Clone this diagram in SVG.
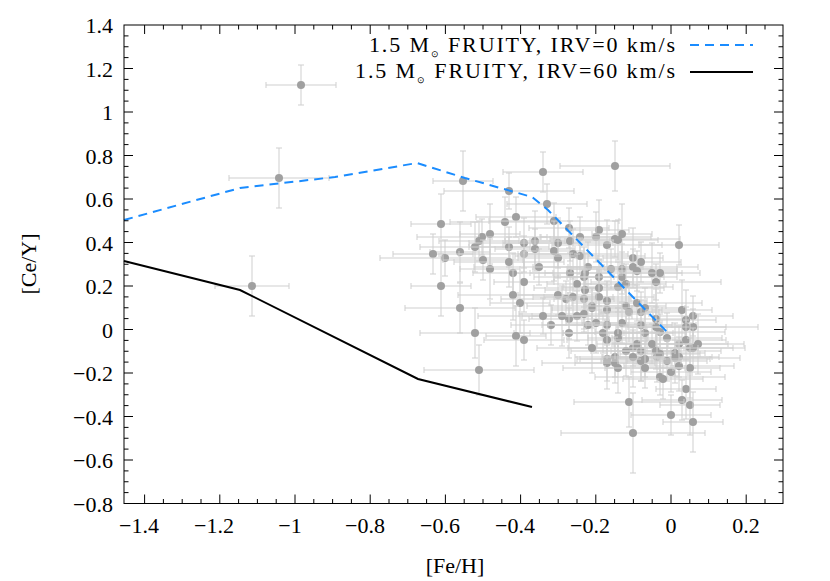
<svg xmlns="http://www.w3.org/2000/svg" xmlns:xlink="http://www.w3.org/1999/xlink" width="830" height="581" viewBox="0 0 830 581">
<style>
text{font-family:"Liberation Serif","Times New Roman",serif;font-size:22px;fill:#000}
.tk{stroke:#000;stroke-width:1;fill:none}
.eb{stroke:#cfcfcf;stroke-width:1;fill:none}
.pt{fill:#a0a0a0}
</style>
<defs>
<g id="a"><path class="eb" d="M-40 0H40M-40 -3V3M40 -3V3M0 -20V20M-3 -20H3M-3 20H3"/><circle class="pt" r="4"/></g>
<g id="b"><path class="eb" d="M-55 0H55M-55 -3V3M55 -3V3M0 -25V25M-3 -25H3M-3 25H3"/><circle class="pt" r="4"/></g>
<g id="c"><path class="eb" d="M-30 0H30M-30 -3V3M30 -3V3M0 -30V30M-3 -30H3M-3 30H3"/><circle class="pt" r="4"/></g>
<g id="d"><path class="eb" d="M-65 0H65M-65 -3V3M65 -3V3M0 -18V18M-3 -18H3M-3 18H3"/><circle class="pt" r="4"/></g>
</defs>
<rect width="830" height="581" fill="#fff"/>
<g id="data">
<g transform="translate(301,85)"><path class="eb" d="M-35 0H35M-35 -3V3M35 -3V3M0 -20V20M-3 -20H3M-3 20H3"/><circle class="pt" r="4"/></g>
<g transform="translate(279,178)"><path class="eb" d="M-50 0H50M-50 -3V3M50 -3V3M0 -30V30M-3 -30H3M-3 30H3"/><circle class="pt" r="4"/></g>
<g transform="translate(252,286)"><path class="eb" d="M-37 0H37M-37 -3V3M37 -3V3M0 -30V30M-3 -30H3M-3 30H3"/><circle class="pt" r="4"/></g>
<use href="#a" x="543" y="172"/><use href="#b" x="615" y="166"/><use href="#c" x="463" y="181"/><use href="#d" x="509" y="191"/>
<use href="#a" x="547" y="204"/><use href="#c" x="441" y="224"/><use href="#b" x="505" y="222"/><use href="#a" x="516" y="217"/>
<use href="#d" x="554" y="221"/><use href="#a" x="569" y="228"/><use href="#c" x="599" y="230"/><use href="#b" x="596" y="237"/>
<use href="#a" x="580" y="237"/><use href="#d" x="615" y="239"/><use href="#c" x="622" y="234"/><use href="#a" x="618" y="240"/>
<use href="#b" x="607" y="245"/><use href="#a" x="679" y="245"/><use href="#c" x="490" y="234"/><use href="#d" x="482" y="237"/>
<use href="#a" x="479" y="241"/><use href="#b" x="475" y="247"/><use href="#c" x="460" y="252"/><use href="#a" x="433" y="254"/>
<use href="#d" x="445" y="258"/><use href="#a" x="509" y="247"/><use href="#b" x="524" y="243"/><use href="#c" x="535" y="241"/>
<use href="#a" x="535" y="249"/><use href="#d" x="524" y="254"/><use href="#b" x="558" y="243"/><use href="#a" x="570" y="241"/>
<use href="#c" x="554" y="251"/><use href="#a" x="558" y="258"/><use href="#b" x="573" y="254"/><use href="#d" x="580" y="256"/>
<use href="#a" x="483" y="260"/><use href="#c" x="490" y="269"/><use href="#b" x="509" y="262"/><use href="#a" x="513" y="273"/>
<use href="#d" x="539" y="267"/><use href="#c" x="524" y="282"/><use href="#a" x="570" y="273"/><use href="#b" x="588" y="267"/>
<use href="#a" x="585" y="273"/><use href="#c" x="584" y="277"/><use href="#d" x="599" y="277"/><use href="#a" x="611" y="269"/>
<use href="#b" x="622" y="269"/><use href="#c" x="633" y="258"/><use href="#a" x="641" y="262"/><use href="#d" x="633" y="267"/>
<use href="#a" x="637" y="271"/><use href="#b" x="622" y="277"/><use href="#c" x="652" y="273"/><use href="#a" x="660" y="273"/>
<use href="#d" x="656" y="282"/><use href="#a" x="626" y="284"/><use href="#b" x="618" y="287"/><use href="#c" x="577" y="284"/>
<use href="#a" x="585" y="290"/><use href="#d" x="599" y="288"/><use href="#c" x="441" y="286"/><use href="#b" x="513" y="295"/>
<use href="#a" x="558" y="295"/><use href="#d" x="566" y="299"/><use href="#a" x="573" y="297"/><use href="#c" x="584" y="299"/>
<use href="#b" x="599" y="297"/><use href="#a" x="607" y="301"/><use href="#d" x="592" y="306"/><use href="#a" x="592" y="308"/>
<use href="#c" x="520" y="303"/><use href="#b" x="460" y="308"/><use href="#a" x="626" y="306"/><use href="#d" x="637" y="303"/>
<use href="#a" x="645" y="308"/><use href="#c" x="629" y="312"/><use href="#b" x="607" y="310"/><use href="#a" x="641" y="312"/>
<use href="#c" x="682" y="310"/><use href="#a" x="693" y="316"/><use href="#d" x="584" y="314"/><use href="#b" x="577" y="316"/>
<use href="#a" x="569" y="319"/><use href="#c" x="562" y="316"/><use href="#d" x="543" y="316"/><use href="#a" x="551" y="325"/>
<use href="#b" x="569" y="333"/><use href="#a" x="588" y="325"/><use href="#c" x="596" y="323"/><use href="#d" x="607" y="325"/>
<use href="#a" x="622" y="323"/><use href="#b" x="641" y="325"/><use href="#c" x="656" y="319"/><use href="#a" x="656" y="327"/>
<use href="#d" x="660" y="332"/><use href="#a" x="645" y="333"/><use href="#b" x="667" y="338"/><use href="#c" x="686" y="320"/>
<use href="#a" x="686" y="327"/><use href="#d" x="693" y="327"/><use href="#a" x="603" y="333"/><use href="#b" x="618" y="333"/>
<use href="#c" x="618" y="338"/><use href="#a" x="607" y="340"/><use href="#b" x="475" y="333"/><use href="#c" x="516" y="336"/>
<use href="#a" x="524" y="340"/><use href="#d" x="679" y="344"/><use href="#a" x="686" y="340"/><use href="#b" x="690" y="348"/>
<use href="#c" x="698" y="344"/><use href="#a" x="693" y="348"/><use href="#d" x="633" y="348"/><use href="#a" x="637" y="344"/>
<use href="#b" x="626" y="351"/><use href="#c" x="641" y="351"/><use href="#a" x="652" y="344"/><use href="#d" x="656" y="351"/>
<use href="#a" x="660" y="354"/><use href="#b" x="657" y="357"/><use href="#c" x="675" y="353"/><use href="#a" x="679" y="357"/>
<use href="#d" x="675" y="358"/><use href="#a" x="667" y="361"/><use href="#b" x="679" y="366"/><use href="#c" x="690" y="368"/>
<use href="#a" x="671" y="372"/><use href="#d" x="660" y="377"/><use href="#a" x="663" y="379"/><use href="#b" x="592" y="348"/>
<use href="#c" x="607" y="359"/><use href="#a" x="615" y="357"/><use href="#d" x="607" y="363"/><use href="#a" x="615" y="363"/>
<use href="#b" x="618" y="368"/><use href="#c" x="633" y="357"/><use href="#a" x="641" y="361"/><use href="#d" x="645" y="359"/>
<use href="#a" x="645" y="368"/><use href="#b" x="479" y="370"/><use href="#c" x="686" y="389"/><use href="#a" x="682" y="400"/>
<use href="#c" x="690" y="405"/><use href="#b" x="629" y="402"/><use href="#a" x="671" y="415"/><use href="#c" x="693" y="422"/>
<g transform="translate(633,433)"><path class="eb" d="M-72 0H72M-72 -3V3M72 -3V3M0 -40V40M-3 -40H3M-3 40H3"/><circle class="pt" r="4"/></g>
</g>
<g id="connectors" fill="none" stroke-width="2">
<polyline stroke="#1a8cff" stroke-dasharray="9,6" points="124,220 240,188 335,177 417,163 465,178 532,197 548,210 670,335"/>
<polyline stroke="#000" points="124,261 240,290 418,379 532,407"/>
<line stroke="#1a8cff" stroke-dasharray="9,6" x1="690" y1="45" x2="753" y2="45"/>
<line stroke="#000" x1="690" y1="72" x2="753" y2="72"/>
</g>
<g id="frame">
<rect class="tk" x="124" y="25" width="659" height="478.5"/>
<path class="tk" d="M144.6 503.5v-9M219.8 503.5v-9M295 503.5v-9M370.2 503.5v-9M445.4 503.5v-9M520.6 503.5v-9M595.8 503.5v-9M671 503.5v-9M746.2 503.5v-9M144.6 25v9M219.8 25v9M295 25v9M370.2 25v9M445.4 25v9M520.6 25v9M595.8 25v9M671 25v9M746.2 25v9"/>
<path class="tk" d="M163.4 503.5v-4.5M182.2 503.5v-4.5M201 503.5v-4.5M238.6 503.5v-4.5M257.4 503.5v-4.5M276.2 503.5v-4.5M313.8 503.5v-4.5M332.6 503.5v-4.5M351.4 503.5v-4.5M389 503.5v-4.5M407.8 503.5v-4.5M426.6 503.5v-4.5M464.2 503.5v-4.5M483 503.5v-4.5M501.8 503.5v-4.5M539.4 503.5v-4.5M558.2 503.5v-4.5M577 503.5v-4.5M614.6 503.5v-4.5M633.4 503.5v-4.5M652.2 503.5v-4.5M689.8 503.5v-4.5M708.6 503.5v-4.5M727.4 503.5v-4.5M765 503.5v-4.5M163.4 25v4.5M182.2 25v4.5M201 25v4.5M238.6 25v4.5M257.4 25v4.5M276.2 25v4.5M313.8 25v4.5M332.6 25v4.5M351.4 25v4.5M389 25v4.5M407.8 25v4.5M426.6 25v4.5M464.2 25v4.5M483 25v4.5M501.8 25v4.5M539.4 25v4.5M558.2 25v4.5M577 25v4.5M614.6 25v4.5M633.4 25v4.5M652.2 25v4.5M689.8 25v4.5M708.6 25v4.5M727.4 25v4.5M765 25v4.5"/>
<path class="tk" d="M124 68.5h9M124 112h9M124 155.5h9M124 199h9M124 242.5h9M124 286h9M124 329.5h9M124 373h9M124 416.5h9M124 460h9M783 68.5h-9M783 112h-9M783 155.5h-9M783 199h-9M783 242.5h-9M783 286h-9M783 329.5h-9M783 373h-9M783 416.5h-9M783 460h-9"/>
<path class="tk" d="M124 35.9h4.5M124 46.75h4.5M124 57.6h4.5M124 79.4h4.5M124 90.25h4.5M124 101.1h4.5M124 122.9h4.5M124 133.75h4.5M124 144.6h4.5M124 166.4h4.5M124 177.25h4.5M124 188.1h4.5M124 209.9h4.5M124 220.75h4.5M124 231.6h4.5M124 253.4h4.5M124 264.25h4.5M124 275.1h4.5M124 296.9h4.5M124 307.75h4.5M124 318.6h4.5M124 340.4h4.5M124 351.25h4.5M124 362.1h4.5M124 383.9h4.5M124 394.75h4.5M124 405.6h4.5M124 427.4h4.5M124 438.25h4.5M124 449.1h4.5M124 470.9h4.5M124 481.75h4.5M124 492.6h4.5"/>
<path class="tk" d="M783 35.9h-4.5M783 46.75h-4.5M783 57.6h-4.5M783 79.4h-4.5M783 90.25h-4.5M783 101.1h-4.5M783 122.9h-4.5M783 133.75h-4.5M783 144.6h-4.5M783 166.4h-4.5M783 177.25h-4.5M783 188.1h-4.5M783 209.9h-4.5M783 220.75h-4.5M783 231.6h-4.5M783 253.4h-4.5M783 264.25h-4.5M783 275.1h-4.5M783 296.9h-4.5M783 307.75h-4.5M783 318.6h-4.5M783 340.4h-4.5M783 351.25h-4.5M783 362.1h-4.5M783 383.9h-4.5M783 394.75h-4.5M783 405.6h-4.5M783 427.4h-4.5M783 438.25h-4.5M783 449.1h-4.5M783 470.9h-4.5M783 481.75h-4.5M783 492.6h-4.5"/>
</g>
<g id="ylabels" text-anchor="end">
<text x="113" y="33">1.4</text><text x="113" y="76.5">1.2</text><text x="113" y="120">1</text><text x="113" y="163.5">0.8</text>
<text x="113" y="207">0.6</text><text x="113" y="250.5">0.4</text><text x="113" y="294">0.2</text><text x="113" y="337.5">0</text>
<text x="113" y="381">−0.2</text><text x="113" y="424.5">−0.4</text><text x="113" y="468">−0.6</text><text x="113" y="511.5">−0.8</text>
</g>
<g id="xlabels" text-anchor="middle">
<text x="139" y="533">−1.4</text><text x="214" y="533">−1.2</text><text x="290" y="533">−1</text><text x="365" y="533">−0.8</text>
<text x="440" y="533">−0.6</text><text x="515" y="533">−0.4</text><text x="590" y="533">−0.2</text><text x="671" y="533">0</text><text x="746" y="533">0.2</text>
</g>
<text x="455" y="573" text-anchor="middle">[Fe/H]</text>
<text transform="translate(36,264) rotate(-90)" text-anchor="middle">[Ce/Y]</text>
<g id="legend">
<text x="369" y="52" textLength="306" lengthAdjust="spacing">1.5 M<tspan font-size="9" dy="5">⊙</tspan><tspan dy="-5"> FRUITY, IRV=0 km/s</tspan></text>
<text x="355" y="78" textLength="320" lengthAdjust="spacing">1.5 M<tspan font-size="9" dy="5">⊙</tspan><tspan dy="-5"> FRUITY, IRV=60 km/s</tspan></text>
</g>
</svg>
